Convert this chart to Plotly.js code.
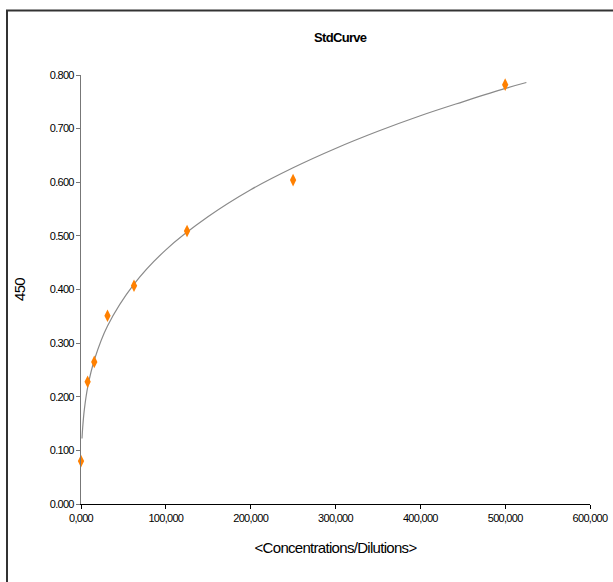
<!DOCTYPE html>
<html>
<head>
<meta charset="utf-8">
<script src="https://cdn.plot.ly/plotly-3.0.1.min.js"></script>
<style>
html,body{margin:0;padding:0;background:#fff;}
#chart{width:613px;height:582px;}
#chart svg text{letter-spacing:-0.7px;}
</style>
</head>
<body>
<div id="chart"></div>
<script>
// Standard points (concentration, OD 450)
var stdConc = [0, 7812.5, 15625, 31250, 62500, 125000, 250000, 500000];
var stdOD = [0.080, 0.228, 0.265, 0.351, 0.407, 0.509, 0.604, 0.782];

// Fitted curve
var curveConc = [1200, 2000, 4000, 8000, 16000, 31250, 62500, 100000, 150000, 200000, 250000, 300000, 350000, 400000, 450000, 500000, 525000];
var curveOD = [0.122, 0.143, 0.177, 0.219, 0.270, 0.332, 0.410, 0.474, 0.536, 0.586, 0.627, 0.663, 0.695, 0.724, 0.750, 0.775, 0.786];

var xTickVals = [0, 100000, 200000, 300000, 400000, 500000, 600000];
var xTickText = ["0,000", "100,000", "200,000", "300,000", "400,000", "500,000", "600,000"];
var yTickVals = [0, 0.1, 0.2, 0.3, 0.4, 0.5, 0.6, 0.7, 0.8];
var yTickText = ["0.000", "0.100", "0.200", "0.300", "0.400", "0.500", "0.600", "0.700", "0.800"];

var FONT = '"Liberation Sans Narrow", "Liberation Sans", Arial, sans-serif';

var traces = [
  {
    x: curveConc, y: curveOD, type: 'scatter', mode: 'lines',
    line: {color: '#8a8a8a', width: 1.2, shape: 'spline', smoothing: 1},
    hoverinfo: 'skip', showlegend: false
  },
  {
    x: stdConc, y: stdOD, type: 'scatter', mode: 'markers',
    marker: {symbol: 'diamond-tall', size: 9, color: '#ff8000', line: {width: 0}},
    showlegend: false, cliponaxis: false
  }
];

var layout = {
  width: 613, height: 582,
  margin: {l: 81, r: 23, t: 75, b: 78},
  paper_bgcolor: '#ffffff', plot_bgcolor: '#ffffff',
  font: {family: FONT, size: 11, color: '#000'},
  title: {text: 'StdCurve', font: {family: FONT, size: 13, color: '#000', weight: 'bold'}, x: 0.555, xanchor: 'center', y: 0.935, yanchor: 'middle'},
  xaxis: {
    range: [0, 600000], tickvals: xTickVals, ticktext: xTickText,
    showgrid: false, zeroline: false, showline: true, linecolor: '#000', linewidth: 1,
    ticks: 'outside', ticklen: 4, tickcolor: '#000',
    tickfont: {family: FONT, size: 11, color: '#000'},
    title: {text: '&lt;Concentrations/Dilutions&gt;', font: {family: FONT, size: 15, color: '#000'}, standoff: 19}
  },
  yaxis: {
    range: [0, 0.8], tickvals: yTickVals, ticktext: yTickText,
    showgrid: false, zeroline: false, showline: true, linecolor: '#777', linewidth: 1,
    ticks: 'outside', ticklen: 4, tickcolor: '#777',
    tickfont: {family: FONT, size: 11, color: '#000'},
    title: {text: '450', font: {family: FONT, size: 15, color: '#000'}, standoff: 17}
  }
};

// Outer frame lines (left and top), positioned in pixels via paper coords
var plotW = 613 - 81 - 23, plotH = 582 - 75 - 78;
function px(x) { return (x - 81) / plotW; }
function py(y) { return (582 - 78 - y) / plotH; }
layout.shapes = [
  {type: 'line', xref: 'paper', yref: 'paper', x0: px(7), x1: px(7), y0: py(10), y1: py(582), line: {color: '#333', width: 2}},
  {type: 'line', xref: 'paper', yref: 'paper', x0: px(6), x1: px(613), y0: py(10.5), y1: py(10.5), line: {color: '#333', width: 2}}
];

Plotly.newPlot('chart', traces, layout, {displayModeBar: false, staticPlot: true});
</script>
</body>
</html>
